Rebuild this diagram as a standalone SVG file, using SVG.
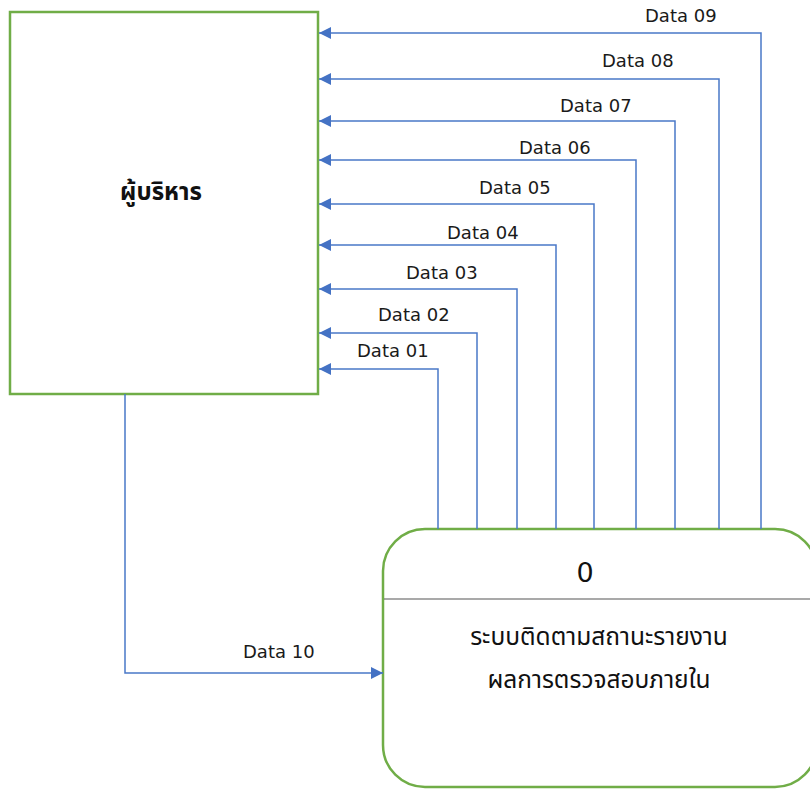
<svg xmlns="http://www.w3.org/2000/svg" width="810" height="789" viewBox="0 0 810 789">
  <style>
    .entity { fill: #ffffff; stroke: #70ad47; stroke-width: 2.5; }
    .flow { fill: none; stroke: #4a78c8; stroke-width: 1.5; }
    .label { font-family: "DejaVu Sans", "Noto Sans", sans-serif; font-size: 18px; fill: #1a1a1a; }
    .thai { font-family: "Noto Sans Thai", "Tahoma", "DejaVu Sans", "Noto Sans", sans-serif; fill: #111111; text-anchor: middle; }
  </style>
  <defs>
    <marker id="arrow" viewBox="0 0 10 10" refX="10" refY="5" markerWidth="12" markerHeight="12" markerUnits="userSpaceOnUse" orient="auto">
      <path d="M0,0 L10,5 L0,10 z" fill="#4472c4"/>
    </marker>
  </defs>
  <rect width="810" height="789" fill="#ffffff"/>

  <!-- external entity: executives -->
  <g id="executive">
    <rect class="entity" x="10" y="12" width="308" height="382"/>
    <text class="thai" x="161" y="200" font-size="24" font-weight="bold">ผู้บริหาร</text>
  </g>

  <!-- process 0 -->
  <g id="process0">
    <rect class="entity" x="383" y="529" width="434" height="258" rx="42" ry="42"/>
    <line x1="384" y1="599" x2="810" y2="599" stroke="#555555" stroke-width="1.2"/>
    <text x="585" y="582" font-family="DejaVu Sans, sans-serif" font-size="27" text-anchor="middle" fill="#111111">0</text>
    <text class="thai" x="599" y="645" font-size="24.5">ระบบติดตามสถานะรายงาน</text>
    <text class="thai" x="599" y="688" font-size="24.5">ผลการตรวจสอบภายใน</text>
  </g>

  <!-- data flows -->
  <g id="connectors">
    <path class="flow" d="M438,529 V369 H319" marker-end="url(#arrow)"/>
    <path class="flow" d="M477,529 V333 H319" marker-end="url(#arrow)"/>
    <path class="flow" d="M517,529 V289 H319" marker-end="url(#arrow)"/>
    <path class="flow" d="M556,529 V245 H319" marker-end="url(#arrow)"/>
    <path class="flow" d="M594,529 V204 H319" marker-end="url(#arrow)"/>
    <path class="flow" d="M636,529 V160 H319" marker-end="url(#arrow)"/>
    <path class="flow" d="M675,529 V121 H319" marker-end="url(#arrow)"/>
    <path class="flow" d="M719,529 V79 H319" marker-end="url(#arrow)"/>
    <path class="flow" d="M761,529 V33 H319" marker-end="url(#arrow)"/>
    <path class="flow" d="M125,394 V673 H383" marker-end="url(#arrow)"/>

    <text class="label" x="357" y="357">Data 01</text>
    <text class="label" x="378" y="321">Data 02</text>
    <text class="label" x="406" y="279">Data 03</text>
    <text class="label" x="447" y="239">Data 04</text>
    <text class="label" x="479" y="194">Data 05</text>
    <text class="label" x="519" y="154">Data 06</text>
    <text class="label" x="560" y="112">Data 07</text>
    <text class="label" x="602" y="67">Data 08</text>
    <text class="label" x="645" y="22">Data 09</text>
    <text class="label" x="243" y="658">Data 10</text>
  </g>
</svg>
